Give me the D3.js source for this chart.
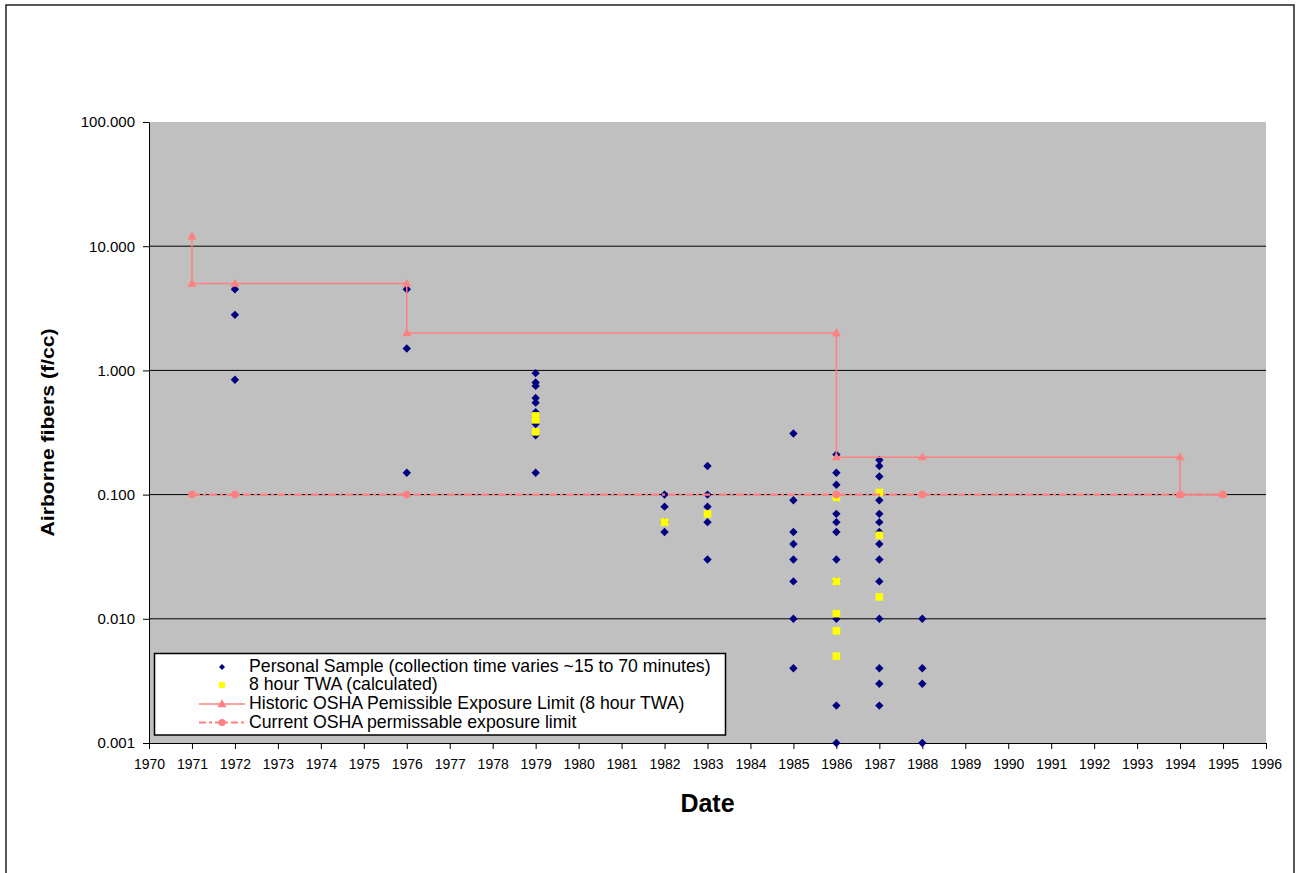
<!DOCTYPE html>
<html>
<head>
<meta charset="utf-8">
<script src="https://cdn.jsdelivr.net/npm/d3@7"></script>
<style>
  body { margin: 0; background: #fff; }
  svg { display: block; font-family: "Liberation Sans", Arial, sans-serif; }
</style>
</head>
<body>
<div id="chart"></div>
<script>
// personal samples, grouped by year
const personalYears = [1972, 1976, 1979, 1982, 1983, 1985, 1986, 1987, 1988];
const personalValues = [
  [4.5, 2.8, 0.84],
  [4.5, 1.5, 0.15],
  [0.95, 0.8, 0.75, 0.6, 0.55, 0.46, 0.42, 0.37, 0.3, 0.15],
  [0.1, 0.08, 0.06, 0.05],
  [0.17, 0.1, 0.08, 0.06, 0.03],
  [0.31, 0.09, 0.05, 0.04, 0.03, 0.02, 0.01, 0.004],
  [0.21, 0.15, 0.12, 0.07, 0.06, 0.05, 0.03, 0.02, 0.01, 0.002, 0.001],
  [0.19, 0.17, 0.14, 0.09, 0.07, 0.06, 0.05, 0.04, 0.03, 0.02, 0.01, 0.004, 0.003, 0.002],
  [0.01, 0.004, 0.003, 0.001]
];

// 8 hour TWA (calculated)
const twaYears = [1979, 1982, 1983, 1986, 1987];
const twaValues = [
  [0.43, 0.40, 0.32],
  [0.06],
  [0.07],
  [0.095, 0.02, 0.011, 0.008, 0.005],
  [0.104, 0.047, 0.015]
];

// historic OSHA PEL (step line)
const historicYears = [1971, 1971, 1972, 1976, 1976, 1986, 1986, 1988, 1994, 1994, 1995];
const historicValues = [12, 5, 5, 5, 2, 2, 0.2, 0.2, 0.2, 0.1, 0.1];

// current OSHA PEL
const currentYears = [1971, 1972, 1976, 1986, 1988, 1994, 1995];
const currentValues = [0.1, 0.1, 0.1, 0.1, 0.1, 0.1, 0.1];

const yearTicks = [1970, 1971, 1972, 1973, 1974, 1975, 1976, 1977, 1978, 1979, 1980, 1981, 1982,
  1983, 1984, 1985, 1986, 1987, 1988, 1989, 1990, 1991, 1992, 1993, 1994, 1995, 1996];
const yTicks = [0.001, 0.01, 0.1, 1, 10, 100];

const legendLabels = [
  "Personal Sample (collection time varies ~15 to 70 minutes)",
  "8 hour TWA (calculated)",
  "Historic OSHA Pemissible Exposure Limit (8 hour TWA)",
  "Current OSHA permissable exposure limit"
];

const width = 1301, height = 873;
const plot = { left: 149, right: 1266, top: 122, bottom: 743 };
const salmon = "#FF8080";

const x = d3.scaleLinear().domain([1970, 1996]).range([plot.left, plot.right]);
const y = d3.scaleLog().domain([0.001, 100]).range([plot.bottom, plot.top]);

const svg = d3.select("#chart").append("svg")
  .attr("width", width)
  .attr("height", height);

// outer chart frame
svg.append("rect")
  .attr("x", 6).attr("y", 5)
  .attr("width", 1288).attr("height", 890)
  .attr("fill", "#fff")
  .attr("stroke", "#222")
  .attr("stroke-width", 1.5);

// plot area
svg.append("rect")
  .attr("x", plot.left).attr("y", plot.top)
  .attr("width", plot.right - plot.left).attr("height", plot.bottom - plot.top)
  .attr("fill", "#C0C0C0");

// gridlines
svg.append("g")
  .selectAll("line")
  .data(yTicks.filter(d => d > 0.001 && d < 100))
  .join("line")
  .attr("x1", plot.left).attr("x2", plot.right)
  .attr("y1", d => y(d)).attr("y2", d => y(d))
  .attr("stroke", "#000")
  .attr("stroke-width", 1);

// axes
const yAxis = svg.append("g")
  .attr("transform", `translate(${plot.left},0)`)
  .call(d3.axisLeft(y).tickValues(yTicks).tickFormat(d3.format(".3f")).tickSize(6).tickPadding(8).tickSizeOuter(0));
yAxis.selectAll("text").attr("font-size", 15).attr("fill", "#000").attr("font-family", null);

const xAxis = svg.append("g")
  .attr("transform", `translate(0,${plot.bottom})`)
  .call(d3.axisBottom(x).tickValues(yearTicks).tickFormat(d3.format("d")).tickSize(6).tickPadding(10).tickSizeOuter(0));
xAxis.selectAll("text").attr("font-size", 14).attr("fill", "#000").attr("font-family", null);

svg.selectAll(".domain").attr("stroke", "#000");
svg.selectAll(".tick line").attr("stroke", "#000");

// axis titles
svg.append("text")
  .attr("transform", `translate(54,${(plot.top + plot.bottom) / 2}) rotate(-90)`)
  .attr("text-anchor", "middle")
  .attr("font-weight", "bold")
  .attr("font-size", 19)
  .attr("textLength", 208)
  .attr("lengthAdjust", "spacingAndGlyphs")
  .text("Airborne fibers (f/cc)");

svg.append("text")
  .attr("x", (plot.left + plot.right) / 2)
  .attr("y", 812)
  .attr("text-anchor", "middle")
  .attr("font-weight", "bold")
  .attr("font-size", 25)
  .text("Date");

// marker shapes
const diamond = s => `M0,${-s}L${s},0L0,${s}L${-s},0Z`;
const triangle = d3.symbol().type(d3.symbolTriangle).size(36);

const flat = (years, values) => years.flatMap((yr, i) => values[i].map(v => ({ year: yr, value: v })));

// personal samples
svg.append("g")
  .selectAll("path")
  .data(flat(personalYears, personalValues))
  .join("path")
  .attr("transform", d => `translate(${x(d.year)},${y(d.value)})`)
  .attr("d", diamond(4.2))
  .attr("fill", "#000080");

// 8 hour TWA
svg.append("g")
  .selectAll("rect")
  .data(flat(twaYears, twaValues))
  .join("rect")
  .attr("x", d => x(d.year) - 3.8)
  .attr("y", d => y(d.value) - 3.8)
  .attr("width", 7.6).attr("height", 7.6)
  .attr("fill", "#FFFF00");

// historic PEL
const historic = historicYears.map((yr, i) => ({ year: yr, value: historicValues[i] }));
const line = d3.line().x(d => x(d.year)).y(d => y(d.value));

svg.append("path")
  .datum(historic)
  .attr("d", line)
  .attr("fill", "none")
  .attr("stroke", salmon)
  .attr("stroke-width", 1.5);

svg.append("g")
  .selectAll("path")
  .data(historic)
  .join("path")
  .attr("transform", d => `translate(${x(d.year)},${y(d.value) + 0.5})`)
  .attr("d", triangle)
  .attr("fill", salmon);

// current PEL
const current = currentYears.map((yr, i) => ({ year: yr, value: currentValues[i] }));

svg.append("path")
  .datum(current)
  .attr("d", line)
  .attr("fill", "none")
  .attr("stroke", salmon)
  .attr("stroke-width", 2.2)
  .attr("stroke-dasharray", "8,3,3,3");

svg.append("g")
  .selectAll("circle")
  .data(current)
  .join("circle")
  .attr("cx", d => x(d.year))
  .attr("cy", d => y(d.value))
  .attr("r", 3.8)
  .attr("fill", salmon);

// legend
const legend = svg.append("g");
legend.append("rect")
  .attr("x", 154.5).attr("y", 653.5)
  .attr("width", 571).attr("height", 81.5)
  .attr("fill", "#fff")
  .attr("stroke", "#000")
  .attr("stroke-width", 1.5);

const rowBase = [671.5, 690, 709, 727.5];
const symX = 222;

legend.selectAll("text")
  .data(legendLabels)
  .join("text")
  .attr("x", 249)
  .attr("y", (d, i) => rowBase[i])
  .attr("font-size", 17.7)
  .text(d => d);

legend.append("path")
  .attr("transform", `translate(${symX},${rowBase[0] - 4.5})`)
  .attr("d", diamond(3))
  .attr("fill", "#000080");

legend.append("rect")
  .attr("x", symX - 3).attr("y", rowBase[1] - 8)
  .attr("width", 6).attr("height", 6)
  .attr("fill", "#FFFF00");

legend.append("line")
  .attr("x1", 199).attr("x2", 245)
  .attr("y1", rowBase[2] - 5).attr("y2", rowBase[2] - 5)
  .attr("stroke", salmon).attr("stroke-width", 1.5);
legend.append("path")
  .attr("transform", `translate(${symX},${rowBase[2] - 4.5})`)
  .attr("d", triangle)
  .attr("fill", salmon);

legend.append("line")
  .attr("x1", 199).attr("x2", 245)
  .attr("y1", rowBase[3] - 5).attr("y2", rowBase[3] - 5)
  .attr("stroke", salmon).attr("stroke-width", 2)
  .attr("stroke-dasharray", "7,3,3,3");
legend.append("circle")
  .attr("cx", symX).attr("cy", rowBase[3] - 5)
  .attr("r", 3.6)
  .attr("fill", salmon);
</script>
</body>
</html>
